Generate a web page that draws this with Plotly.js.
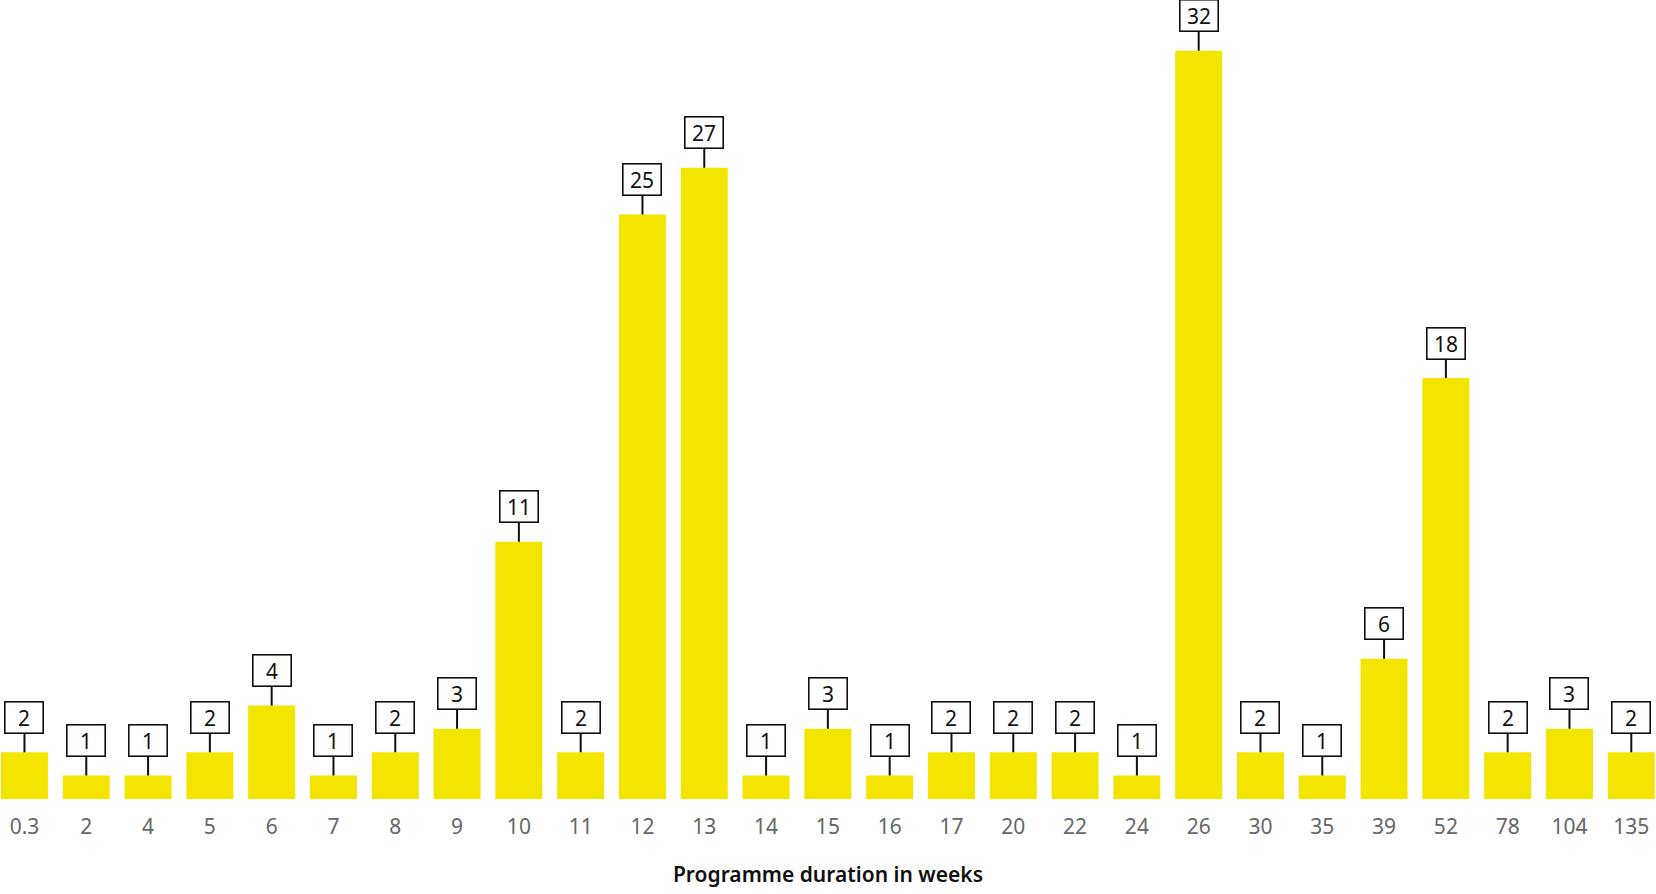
<!DOCTYPE html>
<html>
<head>
<meta charset="utf-8">
<script src="https://cdn.plot.ly/plotly-3.0.1.min.js"></script>
<style>
  html, body { margin: 0; padding: 0; background: #fff; }
  #chart { width: 1656px; height: 894px; }
</style>
</head>
<body>
<div id="chart"></div>
<script>
// programme duration (weeks) and number of programmes
const weeks = ['0.3', '2', '4', '5', '6', '7', '8', '9', '10', '11', '12', '13', '14', '15',
               '16', '17', '20', '22', '24', '26', '30', '35', '39', '52', '78', '104', '135'];
const counts = [2, 1, 1, 2, 4, 1, 2, 3, 11, 2, 25, 27, 1, 3,
                1, 2, 2, 2, 1, 32, 2, 1, 6, 18, 2, 3, 2];

const yellow = '#f3e500';
const fontFam = '"Noto Sans", "Open Sans", sans-serif';

const bars = {
    x: weeks,
    y: counts,
    type: 'bar',
    marker: { color: yellow },
    width: 0.76,
    hoverinfo: 'x+y'
};

// boxed value labels with a short stem down to the bar
// (x given as category index, since labels like '2' would be read as positions)
let labels = [];
for (let i = 0; i < weeks.length; i++) {
    labels.push({
        x: i,
        y: counts[i],
        xref: 'x',
        yref: 'y',
        text: String(counts[i]),
        showarrow: true,
        arrowhead: 0,
        arrowwidth: 2,
        arrowcolor: '#111',
        ax: 0,
        ay: -35,
        width: 35,
        height: 28,
        borderpad: 1,
        borderwidth: 1.6,
        bordercolor: '#111',
        bgcolor: '#fff',
        font: { family: fontFam, size: 21, color: '#111' }
    });
}

const layout = {
    width: 1656,
    height: 894,
    margin: { l: 0, r: 0, t: 0, b: 95 },
    paper_bgcolor: '#fff',
    plot_bgcolor: '#fff',
    showlegend: false,
    font: { family: fontFam },
    xaxis: {
        type: 'category',
        range: [-0.396, 26.4],
        showgrid: false,
        zeroline: false,
        showline: false,
        ticks: '',
        ticklabelstandoff: 13,
        tickfont: { family: fontFam, size: 21, color: '#666' },
        title: {
            text: 'Programme duration in weeks',
            font: { family: fontFam, size: 21, color: '#111', weight: 600 },
            standoff: 28
        }
    },
    yaxis: {
        range: [0, 34.17],
        visible: false,
        showgrid: false,
        zeroline: false
    },
    annotations: labels
};

Plotly.newPlot('chart', [bars], layout, { displayModeBar: false, staticPlot: true });
</script>
</body>
</html>
